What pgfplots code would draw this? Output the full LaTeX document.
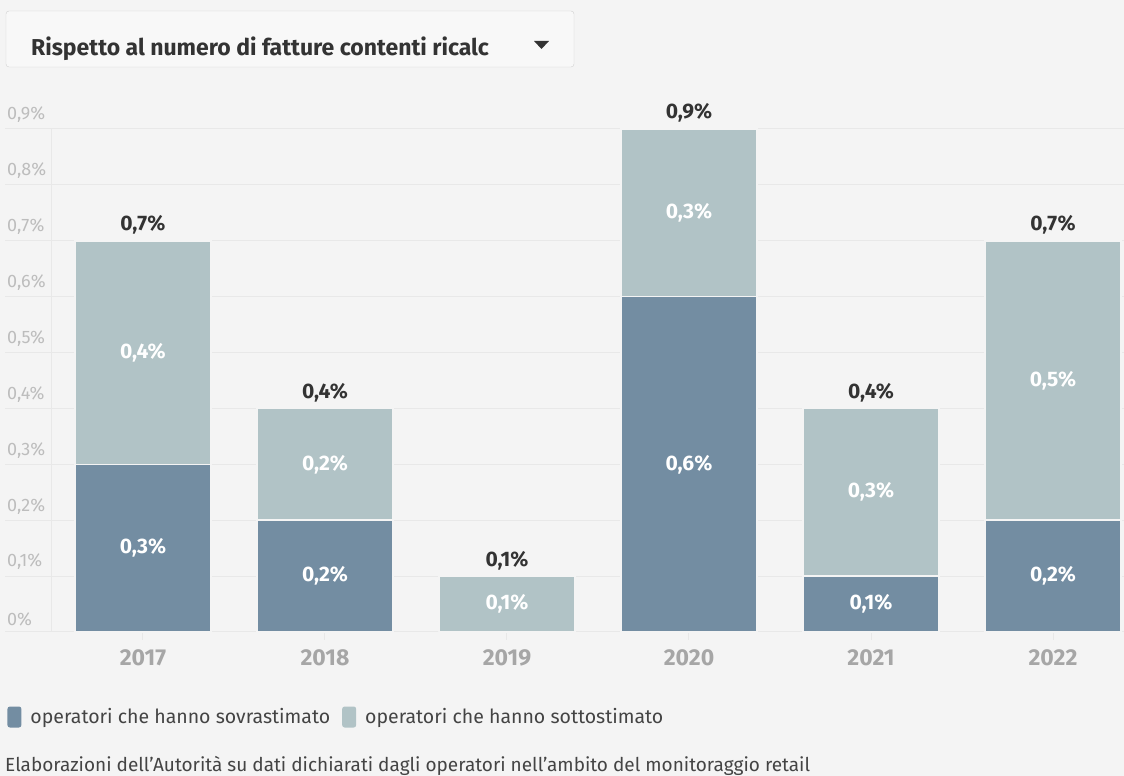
\documentclass[border=0pt]{standalone}
\usepackage{pgfplots}
\pgfplotsset{compat=1.18}
\usepackage{pgfplotstable}
\usepackage{fontspec}
\setmainfont{Fira Sans}

\definecolor{bg}{HTML}{F4F4F4}
\definecolor{gridc}{HTML}{E8E8E8}
\definecolor{darkbar}{HTML}{738DA2}
\definecolor{lightbar}{HTML}{B1C3C6}
\definecolor{ticktext}{HTML}{BDBDBD}
\definecolor{yeartext}{HTML}{A6A6A6}
\definecolor{labtext}{HTML}{333333}
\definecolor{bodytext}{HTML}{444444}

% year index, sovrastimato, sottostimato, totale
\pgfplotstableread{
x dark light total
0 0.3 0.4 0.7
1 0.2 0.2 0.4
2 0.0 0.1 0.1
3 0.6 0.3 0.9
4 0.1 0.3 0.4
5 0.2 0.5 0.7
}\bars

% label positions (middle of each segment)
\pgfplotstableread{
x y v
0 0.15 0.3
1 0.10 0.2
3 0.30 0.6
4 0.05 0.1
5 0.10 0.2
}\darklab
\pgfplotstableread{
x y v
0 0.50 0.4
1 0.30 0.2
2 0.05 0.1
3 0.75 0.3
4 0.25 0.3
5 0.45 0.5
}\lightlab

\pgfkeys{/pgf/number format/assume math mode=true}
\newcommand{\pct}{\pgfmathprintnumber[fixed,fixed zerofill,precision=1,use comma]{\pgfplotspointmeta}\%}
\newcommand{\apo}{\symbol{"27}}

\begin{document}
\begin{tikzpicture}
\fill[bg] (0,0) rectangle (1124pt,776pt);

% dropdown
\draw[fill=bg!60!white, draw=black!18, rounded corners=3pt] (6pt,709pt) rectangle (574pt,765pt);
\begin{scope}
\clip (20pt,700pt) rectangle (490pt,770pt);
\node[anchor=base west, inner sep=0pt, text=labtext, font=\bfseries\fontsize{23}{26}\selectfont] at (31pt,720pt) {Rispetto al numero di fatture contenti ricalc};
\end{scope}
\fill[labtext] (534pt,735pt) -- (549pt,735pt) -- (541.5pt,727pt) -- cycle;

\begin{axis}[
  at={(5pt,144pt)}, anchor=south west,
  scale only axis, width=1119pt, height=503pt,
  xmin=-0.758, xmax=5.39, ymin=0, ymax=0.9,
  clip=false,
  axis line style={draw=none},
  xtick={0,1,2,3,4,5},
  xticklabels={2017,2018,2019,2020,2021,2022},
  xtick pos=bottom, tick align=outside,
  xtick style={draw=gridc, line width=1pt},
  major tick length=8pt,
  xticklabel style={anchor=base, yshift=-26pt, text=yeartext, font=\bfseries\fontsize{23}{26}\selectfont},
  extra x ticks={-0.5}, extra x tick labels={},
  extra x tick style={xmajorgrids=true, major tick length=0pt},
  ytick={0,0.1,...,0.9},
  ymajorgrids, grid style={draw=gridc, line width=1pt},
  ytick style={draw=none},
  yticklabel={\pgfmathprintnumber[fixed,precision=1,use comma]{\tick}\%},
  yticklabel style={anchor=south west, inner sep=0pt, xshift=10pt, yshift=6pt, text=ticktext, font=\fontsize{18}{20}\selectfont},
  legend style={at={(0.002,-0.169)}, anchor=west, draw=none, fill=none, inner sep=0pt,
    legend columns=-1, text=bodytext, font=\fontsize{19.5}{22}\selectfont,
    nodes={inner sep=0pt},
    /tikz/every odd column/.append style={column sep=9pt},
    /tikz/every even column/.append style={column sep=12pt}},
  legend image code/.code={\draw[#1, draw=none, rounded corners=2.5pt] (0pt,-10.5pt) rectangle (14pt,10.5pt);},
  legend cell align=left,
]
\addlegendimage{fill=darkbar}
\addlegendentry{operatori che hanno sovrastimato}
\addlegendimage{fill=lightbar}
\addlegendentry{operatori che hanno sottostimato}

\addplot[forget plot, ybar, bar width=136pt, bar shift=0pt, fill=lightbar, draw=bg, line width=1.5pt,
  point meta=explicit, nodes near coords={\pct},
  nodes near coords style={anchor=base, yshift=10pt, text=labtext, font=\bfseries\fontsize{21}{24}\selectfont}]
  table[x=x, y=total, meta=total] {\bars};
\addplot[forget plot, ybar, bar width=136pt, bar shift=0pt, fill=darkbar, draw=bg, line width=1.5pt]
  table[x=x, y=dark] {\bars};

\addplot[forget plot, draw=none, mark=none, point meta=explicit, nodes near coords={\pct},
  nodes near coords style={anchor=center, text=white, font=\bfseries\fontsize{21}{24}\selectfont}]
  table[x=x, y=y, meta=v] {\darklab};
\addplot[forget plot, draw=none, mark=none, point meta=explicit, nodes near coords={\pct},
  nodes near coords style={anchor=center, text=white, font=\bfseries\fontsize{21}{24}\selectfont}]
  table[x=x, y=y, meta=v] {\lightlab};
\end{axis}

\node[anchor=base west, inner sep=0pt, text=bodytext, font=\fontsize{19}{22}\selectfont] at (5pt,4pt)
  {Elaborazioni dell\apo Autorità su dati dichiarati dagli operatori nell\apo ambito del monitoraggio retail};

\pgfresetboundingbox
\useasboundingbox (0,0) rectangle (1124pt,776pt);
\end{tikzpicture}
\end{document}
